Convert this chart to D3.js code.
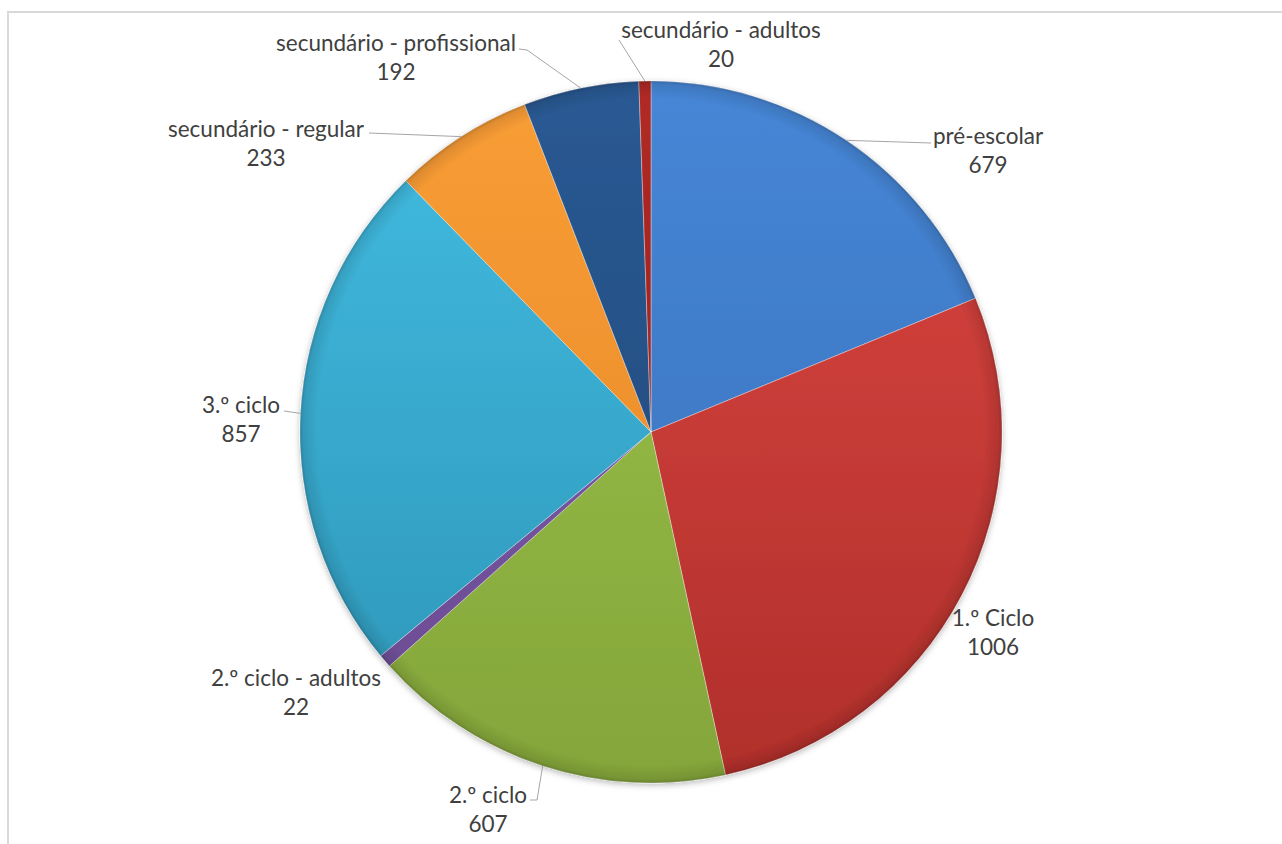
<!DOCTYPE html>
<html>
<head>
<meta charset="utf-8">
<script src="https://cdn.jsdelivr.net/npm/d3@7"></script>
<style>
  html, body { margin: 0; padding: 0; background: #fff; }
  svg { display: block; }
</style>
</head>
<body>
<svg id="chart" width="1282" height="844"></svg>
<script>
// Alunos por nível de ensino
const categories = [
  "pré-escolar", "1.º Ciclo", "2.º ciclo", "2.º ciclo - adultos",
  "3.º ciclo", "secundário - regular", "secundário - profissional", "secundário - adultos"
];
const values = [679, 1006, 607, 22, 857, 233, 192, 20];

// Slice fills: [top, bottom] of each slice's vertical shading
const sliceColors = [
  ["#4686d6", "#386fb8"],
  ["#dc4641", "#b02f2b"],
  ["#9dc64d", "#84a53a"],
  ["#8060ab", "#6a4a92"],
  ["#42bde2", "#2d94b6"],
  ["#f99d36", "#e38625"],
  ["#2a5993", "#204676"],
  ["#b02a25", "#921d19"]
];

// Label placement: text centre, and leader elbow points (label side) where a leader is drawn
const labelLayout = [
  { x: 988, y: 136, leader: [[931, 143]] },
  { x: 993, y: 618, leader: null },
  { x: 488, y: 795, leader: [[530, 800], [537, 800]] },
  { x: 296, y: 678, leader: null },
  { x: 241, y: 405, leader: [[284, 411]] },
  { x: 266, y: 129, leader: [[369, 133]] },
  { x: 396, y: 43, leader: [[519, 49], [527, 50]] },
  { x: 721, y: 30, leader: [[619, 40]] }
];

const cx = 651, cy = 432, radius = 351;
const svg = d3.select("#chart");

// Outer frame
svg.append("rect")
  .attr("x", 8).attr("y", 12)
  .attr("width", 1400).attr("height", 1000)
  .attr("fill", "#fff")
  .attr("stroke", "#d9d9d9")
  .attr("stroke-width", 2);

const defs = svg.append("defs");

const shadow = defs.append("filter").attr("id", "pieShadow")
  .attr("x", "-10%").attr("y", "-10%").attr("width", "120%").attr("height", "120%");
shadow.append("feDropShadow")
  .attr("dx", 0).attr("dy", 2).attr("stdDeviation", 3)
  .attr("flood-color", "#000").attr("flood-opacity", 0.28);

// Vertical shading per slice, in the pie group's coordinates (centre at 0,0)
sliceColors.forEach((c, i) => {
  const g = defs.append("linearGradient")
    .attr("id", "slice" + i)
    .attr("gradientUnits", "userSpaceOnUse")
    .attr("x1", 0).attr("y1", -radius)
    .attr("x2", 0).attr("y2", radius);
  g.append("stop").attr("offset", "0%").attr("stop-color", c[0]);
  g.append("stop").attr("offset", "100%").attr("stop-color", c[1]);
});

// Rim bevel: darkening toward the outer edge
const bevel = defs.append("radialGradient").attr("id", "rim")
  .attr("gradientUnits", "userSpaceOnUse")
  .attr("cx", 0).attr("cy", 0).attr("r", radius);
bevel.append("stop").attr("offset", "95%").attr("stop-color", "#000").attr("stop-opacity", 0);
bevel.append("stop").attr("offset", "99%").attr("stop-color", "#000").attr("stop-opacity", 0.10);
bevel.append("stop").attr("offset", "100%").attr("stop-color", "#000").attr("stop-opacity", 0.22);

const pie = d3.pie().sort(null).value(d => d)(values);
const arc = d3.arc().innerRadius(0).outerRadius(radius);

const gPie = svg.append("g")
  .attr("transform", `translate(${cx},${cy})`)
  .attr("filter", "url(#pieShadow)");

gPie.selectAll("path.slice")
  .data(pie)
  .join("path")
  .attr("class", "slice")
  .attr("d", arc)
  .attr("fill", (d, i) => `url(#slice${i})`)
  .attr("stroke", "rgba(255,255,255,0.35)")
  .attr("stroke-width", 1);

gPie.selectAll("path.rim")
  .data(pie)
  .join("path")
  .attr("class", "rim")
  .attr("d", arc)
  .attr("fill", "url(#rim)");

// Leader lines from the outer edge of each slice to its label
const gLabels = svg.append("g");
pie.forEach((d, i) => {
  const lay = labelLayout[i];
  if (!lay.leader) return;
  const mid = (d.startAngle + d.endAngle) / 2;
  const px = cx + radius * Math.sin(mid);
  const py = cy - radius * Math.cos(mid);
  const pts = lay.leader.concat([[px, py]]);
  gLabels.append("path")
    .attr("d", d3.line()(pts))
    .attr("fill", "none")
    .attr("stroke", "#a6a6a6")
    .attr("stroke-width", 1);
});

// Two-line labels: category and value
pie.forEach((d, i) => {
  const lay = labelLayout[i];
  const t = gLabels.append("text")
    .attr("text-anchor", "middle")
    .attr("font-family", "Lato, 'Open Sans', sans-serif")
    .attr("font-size", 22.5)
    .attr("fill", "#404040");
  t.append("tspan").attr("x", lay.x).attr("y", lay.y).attr("dy", "0.35em").text(categories[i]);
  t.append("tspan").attr("x", lay.x).attr("y", lay.y + 29).attr("dy", "0.35em").text(values[i]);
});
</script>
</body>
</html>
